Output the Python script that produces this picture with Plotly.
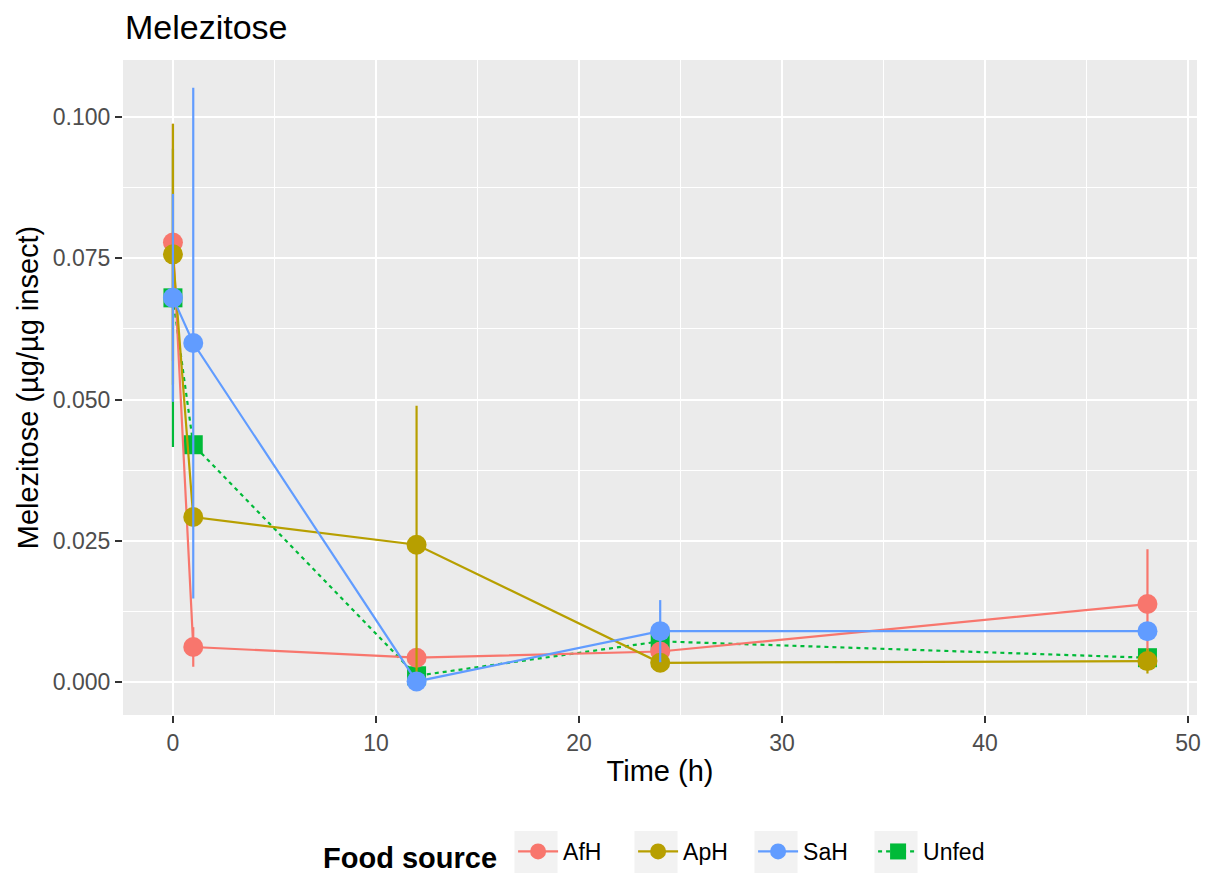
import plotly.graph_objects as go

# Melezitose content over time per food source
time_h = [0, 1, 12, 24, 48]

afh_mean = [0.0778, 0.0062, 0.0043, 0.0054, 0.0138]
afh_err = [0.021, 0.0035, 0.0, 0.0, 0.0097]

aph_mean = [0.0757, 0.0292, 0.0243, 0.0034, 0.0037]
aph_err = [0.0231, 0.0, 0.0246, 0.0, 0.0022]

sah_mean = [0.0680, 0.0600, 0.0001, 0.0090, 0.0090]
sah_err = [0.0184, 0.0452, 0.0, 0.0055, 0.0]

unfed_mean = [0.0680, 0.0420, 0.0011, 0.0072, 0.0043]
unfed_err = [0.0264, 0.0, 0.0, 0.0, 0.0]

groups = ["AfH", "ApH", "SaH", "Unfed"]
colors = {"AfH": "#F8766D", "ApH": "#B79F00", "SaH": "#619CFF", "Unfed": "#00BA38"}
series = {
    "AfH": (afh_mean, afh_err),
    "ApH": (aph_mean, aph_err),
    "SaH": (sah_mean, sah_err),
    "Unfed": (unfed_mean, unfed_err),
}

fig = go.Figure()
# Unfed sits underneath the other groups in the original, so draw it first
for rank, g in sorted(enumerate(groups), key=lambda t: t[1] != "Unfed"):
    mean, err = series[g]
    is_unfed = g == "Unfed"
    fig.add_trace(go.Scatter(
        x=time_h, y=mean, name=g, mode="lines+markers", legendrank=rank + 1,
        line=dict(color=colors[g], width=2.2,
                  dash="4px,4px" if is_unfed else "solid"),
        marker=dict(symbol="square" if is_unfed else "circle",
                    size=19 if is_unfed else 20, color=colors[g]),
        error_y=dict(type="data", array=err, visible=True, color=colors[g],
                     thickness=2.2, width=0),
    ))

# grey key boxes behind the legend symbols (ggplot style)
plot_l, plot_w, plot_b, plot_h = 115, 1074, 707, 655
for cx in [528, 648, 768, 888]:
    fig.add_shape(type="rect", xref="paper", yref="paper", layer="below",
                  x0=(cx - 21.5 - plot_l) / plot_w, x1=(cx + 21.5 - plot_l) / plot_w,
                  y0=(plot_b - 823) / plot_h, y1=(plot_b - 865) / plot_h,
                  fillcolor="#F2F2F2", line_width=0)

fig.update_layout(
    width=1211, height=875,
    font=dict(family="Liberation Sans, Arial, sans-serif", color="black"),
    paper_bgcolor="white", plot_bgcolor="#EBEBEB",
    margin=dict(l=115, r=22, t=52, b=168),
    title=dict(text="Melezitose", x=117 / 1211, xanchor="left", xref="container",
               y=1 - 19 / 875, yanchor="middle", yref="container",
               font=dict(size=34)),
    xaxis=dict(
        title=dict(text="Time (h)", font=dict(size=29), standoff=6),
        range=[-2.46, 50.44], tickvals=[0, 10, 20, 30, 40, 50],
        showgrid=True, gridcolor="white", gridwidth=2, zeroline=False,
        ticks="outside", ticklen=7, tickwidth=2, tickcolor="#333333",
        tickfont=dict(size=23, color="#4D4D4D"),
        minor=dict(tickvals=[5, 15, 25, 35, 45], showgrid=True,
                   gridcolor="white", gridwidth=1, ticks=""),
    ),
    yaxis=dict(
        title=dict(text="Melezitose (µg/µg insect)", font=dict(size=29), standoff=5),
        range=[-0.00584, 0.1101],
        tickvals=[0, 0.025, 0.05, 0.075, 0.1],
        ticktext=["0.000", "0.025", "0.050", "0.075", "0.100"],
        showgrid=True, gridcolor="white", gridwidth=2, zeroline=False,
        ticks="outside", ticklen=7, tickwidth=2, tickcolor="#333333",
        tickfont=dict(size=23, color="#4D4D4D"),
        minor=dict(tickvals=[0.0125, 0.0375, 0.0625, 0.0875], showgrid=True,
                   gridcolor="white", gridwidth=1, ticks=""),
    ),
    legend=dict(
        orientation="h", xref="container", x=313 / 1211, xanchor="left",
        yref="container", y=1 - 846 / 875, yanchor="middle",
        bgcolor="rgba(0,0,0,0)",
        title=dict(text="<b>Food source</b>\u00a0", font=dict(size=29)),
        font=dict(size=23), itemwidth=40,
        entrywidth=65, entrywidthmode="pixels",
    ),
    showlegend=True,
)

fig.write_html("out.html")
